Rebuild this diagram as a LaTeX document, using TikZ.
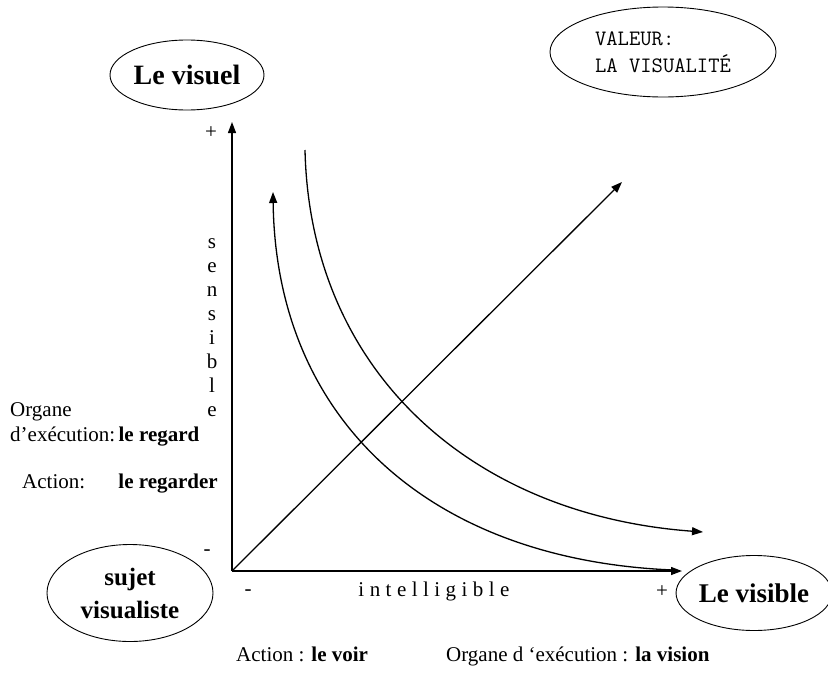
\documentclass[tikz,border=0pt]{standalone}
\usepackage{fontspec}
\setmainfont{Liberation Serif}
\usetikzlibrary{arrows.meta,shapes.geometric}
\tikzset{
  arr/.style={line width=1.3pt,-{Triangle[length=11pt,width=8pt]}},
  oval/.style={draw,ellipse,line width=0.9pt,inner sep=0pt},
  txt/.style={font=\fontsize{21}{24}\selectfont,inner sep=0pt},
}
\begin{document}
\begin{tikzpicture}[x=1pt,y=-1pt]
\useasboundingbox (0,0) rectangle (828,691);
% ellipses
\node[oval,minimum width=154pt,minimum height=70pt,font=\fontsize{28}{30}\selectfont\bfseries] (visuel) at (187,75) {Le visuel};
\node[oval,minimum width=226pt,minimum height=90pt,align=left,font=\ttfamily\fontsize{22}{27}\selectfont] (valeur) at (663,52) {VALEUR:\\LA VISUALITÉ};
\node[oval,minimum width=142pt,minimum height=75pt,font=\fontsize{27}{30}\selectfont\bfseries] (visible) at (754,593) {Le visible};
\node[oval,minimum width=166pt,minimum height=97pt,align=center,font=\fontsize{25}{33}\selectfont\bfseries] (sujet) at (130,593) {sujet\\visualiste};
% axes
\coordinate (O) at (232,571);
\coordinate (Ytop) at (232,122);
\coordinate (Xend) at (682,571);
\coordinate (Dend) at (622,182);
\draw[arr] (O) -- (Ytop);
\draw[arr] (O) -- (Xend);
\draw[arr] (O) -- (Dend);
% curves
\coordinate (C1s) at (673,570);
\coordinate (C1e) at (273,192);
\coordinate (C2s) at (305,150);
\coordinate (C2e) at (703,532);
\draw[arr] (C1s) .. controls (430,560) and (276,420) .. (C1e);
\draw[arr] (C2s) .. controls (310,370) and (470,515) .. (C2e);
% axis marks
\node[txt] (yplus) at (211,133) {+};
\node[txt] (yminus) at (207,553) {-};
\node[txt] (xminus) at (248,593) {-};
\node[txt] (xplus) at (662,592) {+};
\node[txt,align=center] (sens) at (212,328) {s\\e\\n\\s\\i\\b\\l\\e};
\node[txt,font=\addfontfeatures{LetterSpace=26}\fontsize{21}{24}\selectfont] (intel) at (434,591) {intelligible};
% left texts
\node[txt,anchor=base west] (org1) at (10,416) {Organe};
\node[txt,anchor=base west] (org2) at (10,441) {d’exécution:\,\textbf{le regard}};
\node[txt,anchor=base west] (act1) at (22,488) {Action:};
\node[txt,anchor=base east] (act2) at (218,488) {\textbf{le regarder}};
% bottom texts
\node[txt,anchor=base west] (bact) at (236,661) {Action : \textbf{le voir}};
\node[txt,anchor=base west] (borg) at (446,661) {Organe d ‘exécution : \textbf{la vision}};
\end{tikzpicture}
\end{document}
